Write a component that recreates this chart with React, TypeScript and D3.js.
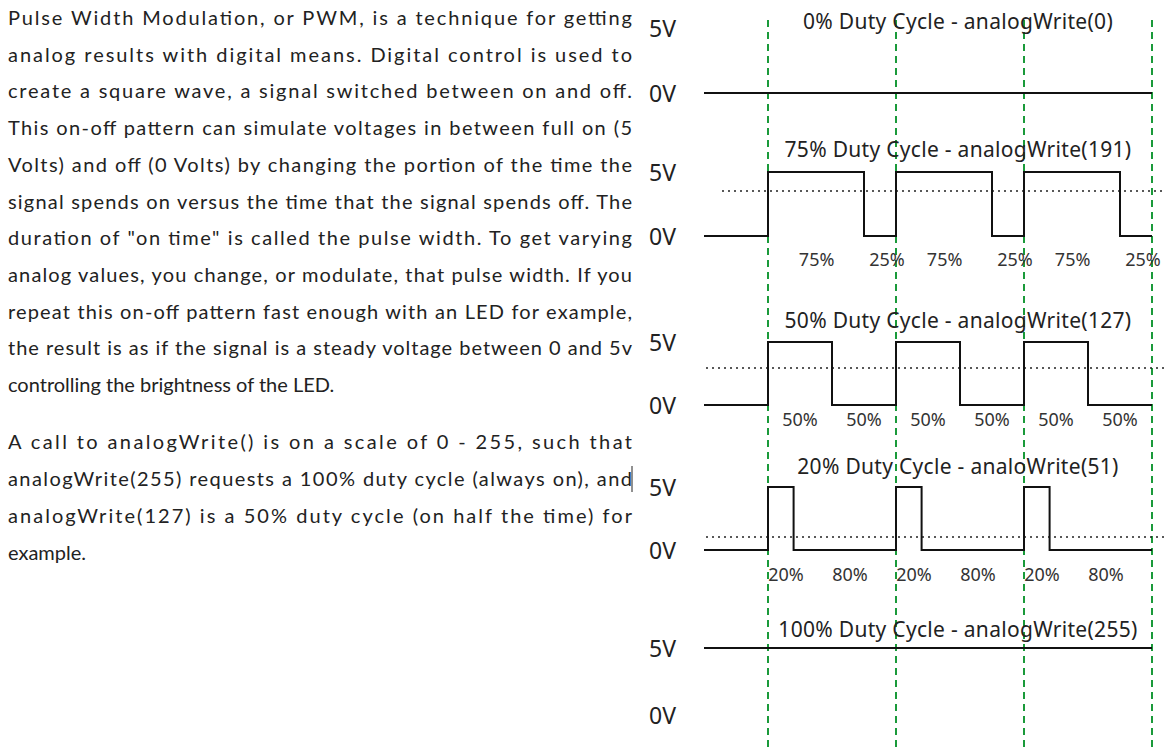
import * as d3 from 'd3'

const para1 = [
  'Pulse Width Modulation, or PWM, is a technique for getting',
  'analog results with digital means. Digital control is used to',
  'create a square wave, a signal switched between on and off.',
  'This on-off pattern can simulate voltages in between full on (5',
  'Volts) and off (0 Volts) by changing the portion of the time the',
  'signal spends on versus the time that the signal spends off. The',
  'duration of "on time" is called the pulse width. To get varying',
  'analog values, you change, or modulate, that pulse width. If you',
  'repeat this on-off pattern fast enough with an LED for example,',
  'the result is as if the signal is a steady voltage between 0 and 5v',
  'controlling the brightness of the LED.',
]
const para2 = [
  'A call to analogWrite() is on a scale of 0 - 255, such that',
  'analogWrite(255) requests a 100% duty cycle (always on), and',
  'analogWrite(127) is a 50% duty cycle (on half the time) for',
  'example.',
]

const duties = [0, 0.75, 0.5, 0.2, 1]
const titles = [
  '0% Duty Cycle - analogWrite(0)',
  '75% Duty Cycle - analogWrite(191)',
  '50% Duty Cycle - analogWrite(127)',
  '20%  Duty Cycle - analoWrite(51)',
  '100% Duty Cycle - analogWrite(255)',
]
// top (5V) y of each panel
const panelTop = [28, 172, 342, 487, 648]
const panelH = [65, 64, 63, 63, 67]
const titleY = [22, 150, 321, 467, 630]
const dotted = [null, 191, 368, 537, null]
const pctLabels = [
  [],
  [['75%', 0.38], ['25%', 0.93]],
  [['50%', 0.25], ['50%', 0.75]],
  [['20%', 0.14], ['80%', 0.64]],
  [],
]
const pctY = [0, 260, 420, 575, 0]
const periods = [0, 1, 2]
const gridT = [0, 1, 2, 3]

const x = d3.scaleLinear().domain([0, 3]).range([768, 1152])

function wave(d: number): [number, number][] {
  const pts: [number, number][] = [[-0.5, 0]]
  if (d === 0) { pts.push([3, 0]); return pts }
  if (d === 1) return [[-0.5, 1], [3, 1]]
  for (const k of periods) {
    pts.push([k, 0], [k, 1], [k + d, 1], [k + d, 0])
  }
  pts.push([3, 0])
  return pts
}

export default function App() {
  const body = 'Lato, sans-serif'
  const font = '"Noto Sans", sans-serif'
  return (
    <svg width={1166} height={747} style={{ position: 'absolute', left: 0, top: 0 }}>
      <rect width={1166} height={747} fill="#fff" />
      {para1.map((s, i) => (
        <text key={'a' + i} x={8} y={25 + i * 36.7} fontFamily={body} fontSize={20} fill="#222"
          {...(i < para1.length - 1 ? { textLength: 624, lengthAdjust: 'spacing' } : {})}>{s}</text>
      ))}
      {para2.map((s, i) => (
        <text key={'b' + i} x={8} y={449 + i * 37} fontFamily={body} fontSize={20} fill="#222"
          {...(i < para2.length - 1 ? { textLength: 624, lengthAdjust: 'spacing' } : {})}>{s}</text>
      ))}
      <line x1={632} x2={632} y1={466} y2={492} stroke="#222" strokeWidth={1} />
      {gridT.map(t => (
        <line key={'g' + t} x1={x(t)} x2={x(t)} y1={20} y2={747} stroke="#1a9a3a" strokeWidth={2} strokeDasharray="7 5" />
      ))}
      {duties.map((d, i) => {
        const y = d3.scaleLinear().domain([0, 1]).range([panelTop[i] + panelH[i], panelTop[i]])
        const line = d3.line<[number, number]>().x(p => x(p[0])).y(p => y(p[1]))
        return (
          <g key={'p' + i}>
            <text x={649} y={y(1) + 9} fontFamily={font} fontSize={23} fill="#222">5V</text>
            <text x={649} y={y(0) + 9} fontFamily={font} fontSize={23} fill="#222">0V</text>
            <text x={958} y={titleY[i] + 7} textAnchor="middle" fontFamily={font} fontSize={21} fill="#222" letterSpacing={0.3}>{titles[i]}</text>
            {dotted[i] !== null && (
              <line x1={i === 1 ? 722 : 706} x2={1166} y1={dotted[i]!} y2={dotted[i]!} stroke="#222" strokeWidth={1.5} strokeDasharray="2 4" />
            )}
            <path d={line(wave(d))!} fill="none" stroke="#111" strokeWidth={2} />
            {periods.map(k => pctLabels[i].map(([s, t], j) => (
              <text key={k + '-' + j} x={x(k + (t as number))} y={pctY[i] + 6} textAnchor="middle" fontFamily={font} fontSize={18} fill="#333">{s}</text>
            )))}
          </g>
        )
      })}
    </svg>
  )
}
